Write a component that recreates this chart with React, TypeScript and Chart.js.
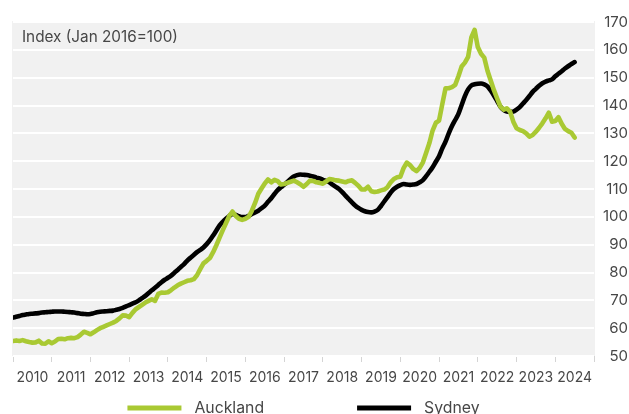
import React, { useEffect, useRef } from "react";
import { Chart, registerables } from "chart.js";

Chart.register(...registerables);

const START_YEAR = 2010;
const yearLabels = ["2010","2011","2012","2013","2014","2015","2016","2017","2018","2019","2020","2021","2022","2023","2024"];
const seriesNames = ["Auckland", "Sydney"];
const seriesColors = ["#a9c933", "#000000"];
const axisTitle = "Index (Jan 2016=100)";

// Monthly index values, Jan 2010 onwards
const aucklandValues = [
  55.4,55.6,55.4,55.7,55.3,55.0,54.8,54.9,55.5,54.5,54.4,55.3,
  54.6,55.2,56.1,56.2,56.0,56.4,56.5,56.4,56.8,57.7,58.7,58.3,
  57.8,58.5,59.3,60.0,60.5,61.0,61.5,62.0,62.6,63.5,64.6,64.5,
  64.0,65.5,66.8,67.6,68.4,69.2,69.8,70.4,69.8,72.3,72.8,72.7,
  72.9,73.7,74.6,75.4,76.0,76.5,77.0,77.2,77.6,79.0,81.2,83.3,
  84.2,85.2,87.3,89.8,92.5,95.2,97.8,100.3,101.9,100.3,99.3,98.9,
  99.3,100.0,102.2,105.0,108.3,110.2,112.0,113.4,112.4,113.3,112.8,111.6,
  111.8,112.2,112.6,113.0,112.4,111.7,110.8,111.8,113.0,112.9,112.4,112.2,
  111.9,112.7,113.6,113.4,113.1,113.0,112.7,112.4,112.9,113.1,112.2,111.2,
  109.8,109.8,110.8,109.2,108.9,109.1,109.5,109.8,110.6,112.4,113.6,114.2,
  114.4,117.5,119.5,118.6,117.2,116.4,117.6,119.6,123.0,126.5,131.0,133.8,
  134.6,140.5,146.2,146.2,146.6,147.4,150.5,154.0,155.4,157.5,164.5,167.2,
  161.0,158.6,157.2,152.5,149.0,145.5,142.5,139.6,138.5,139.0,137.8,134.2,
  131.8,131.2,130.8,130.0,128.8,129.4,130.6,132.0,133.6,135.4,137.4,134.2,
  134.4,135.8,133.4,131.6,130.8,130.2,128.5
];

const sydneyValues = [
  63.8,64.1,64.4,64.7,64.9,65.1,65.2,65.3,65.4,65.6,65.7,65.8,
  65.9,66.0,66.0,66.0,65.9,65.8,65.7,65.6,65.4,65.2,65.1,65.0,
  65.1,65.4,65.7,65.9,66.0,66.1,66.2,66.3,66.6,66.9,67.3,67.8,
  68.3,68.8,69.3,70.0,70.8,71.6,72.6,73.6,74.5,75.5,76.5,77.4,
  78.1,78.9,79.9,80.9,82.0,83.0,84.3,85.3,86.3,87.3,88.1,89.0,
  90.2,91.6,93.3,95.1,96.9,98.2,99.3,100.3,101.0,100.7,100.2,99.9,
  99.9,100.4,101.0,101.6,102.2,103.1,104.0,105.4,106.7,108.2,109.6,110.6,
  111.5,112.5,113.6,114.5,115.0,115.2,115.1,115.0,114.8,114.5,114.1,113.8,
  113.3,112.9,112.4,111.6,110.8,110.0,108.9,107.6,106.4,105.2,104.1,103.2,
  102.5,102.0,101.7,101.6,101.9,102.5,103.9,105.5,107.1,108.7,110.0,110.8,
  111.4,111.8,111.6,111.5,111.6,111.8,112.4,113.2,114.6,116.2,117.8,119.8,
  121.8,124.6,127.0,130.0,132.6,134.8,137.0,140.2,143.4,145.8,147.2,147.6,
  147.8,147.9,147.6,146.9,145.4,143.6,141.6,139.6,138.4,137.8,137.7,137.8,
  138.5,139.4,140.7,142.0,143.4,144.9,146.0,147.1,148.0,148.6,149.0,149.4,
  150.5,151.4,152.3,153.3,154.1,154.9,155.6
];

const FONT = "Inter, 'Noto Sans', sans-serif";
const TEXT_COLOR = "#474747";

const toPoints = (vals: number[]) => vals.map((v, i) => ({ x: START_YEAR + i / 12, y: v }));

const backgroundPlugin = {
  id: "plotBackground",
  beforeDraw(chart: any) {
    const { ctx, chartArea: a } = chart;
    ctx.save();
    ctx.fillStyle = "#f1f1f1";
    ctx.fillRect(a.left - 1, a.top - 1, a.right - a.left + 2, a.bottom - a.top + 1);
    ctx.restore();
  },
  beforeDatasetsDraw(chart: any) {
    const { ctx, chartArea: a } = chart;
    ctx.save();
    ctx.fillStyle = TEXT_COLOR;
    ctx.font = `15.3px ${FONT}`;
    ctx.textBaseline = "middle";
    ctx.textAlign = "left";
    ctx.fillText(axisTitle, a.left + 9, a.top + 15.5);
    ctx.restore();
  },
};

const legendPlugin = {
  id: "bottomLegend",
  afterDraw(chart: any) {
    const { ctx, chartArea: a } = chart;
    const boxW = 54, boxH = 5, gap = 13, itemGap = 93;
    ctx.save();
    ctx.font = `15.8px ${FONT}`;
    const ds = chart.data.datasets;
    const widths = ds.map((d: any) => boxW + gap + ctx.measureText(d.label).width);
    const total = widths.reduce((s: number, w: number) => s + w, 0) + itemGap * (ds.length - 1);
    let x = (a.left + a.right) / 2 - total / 2;
    const y = 408;
    ds.forEach((d: any, i: number) => {
      ctx.fillStyle = d.borderColor;
      ctx.fillRect(x, y - boxH / 2, boxW, boxH);
      ctx.fillStyle = TEXT_COLOR;
      ctx.textBaseline = "middle";
      ctx.textAlign = "left";
      ctx.fillText(d.label, x + boxW + gap, y);
      x += widths[i] + itemGap;
    });
    ctx.restore();
  },
};

export default function App() {
  const ref = useRef<HTMLCanvasElement>(null);
  useEffect(() => {
    if (!ref.current) return;
    const chart = new Chart(ref.current, {
      type: "line",
      data: {
        datasets: [
          {
            label: seriesNames[0],
            data: toPoints(aucklandValues),
            borderColor: seriesColors[0],
            backgroundColor: seriesColors[0],
            borderWidth: 4.6,
            pointRadius: 0,
            tension: 0,
            borderJoinStyle: "round",
            borderCapStyle: "round",
          },
          {
            label: seriesNames[1],
            data: toPoints(sydneyValues),
            borderColor: seriesColors[1],
            backgroundColor: seriesColors[1],
            borderWidth: 4.6,
            pointRadius: 0,
            cubicInterpolationMode: "monotone",
            borderJoinStyle: "round",
            borderCapStyle: "round",
          },
        ],
      },
      options: {
        animation: false,
        responsive: true,
        maintainAspectRatio: false,
        layout: { padding: { left: 13, top: 22, right: 1, bottom: 0 } },
        plugins: { legend: { display: false }, tooltip: { enabled: false } },
        scales: {
          x: {
            type: "linear",
            min: START_YEAR,
            max: START_YEAR + yearLabels.length,
            afterBuildTicks: (scale: any) => {
              const t: any[] = [];
              for (let i = 0; i <= yearLabels.length; i++) {
                t.push({ value: START_YEAR + i });
                if (i < yearLabels.length) t.push({ value: START_YEAR + i + 0.5 });
              }
              scale.ticks = t;
            },
            afterFit: (scale: any) => { scale.height = 58; },
            ticks: {
              autoSkip: false,
              maxRotation: 0,
              padding: 7,
              color: TEXT_COLOR,
              font: { family: FONT, size: 14 },
              callback: (v: any) => {
                const n = Number(v);
                return Number.isInteger(n) ? "" : yearLabels[Math.floor(n) - START_YEAR];
              },
            },
            grid: {
              drawOnChartArea: false,
              drawTicks: true,
              tickLength: 6,
              lineWidth: 1,
              color: (c: any) => (c.tick && Number.isInteger(c.tick.value) ? "#d4d4d4" : "rgba(0,0,0,0)"),
            },
            border: { display: false },
          },
          y: {
            position: "right",
            min: 50,
            max: 170,
            afterFit: (scale: any) => { scale.width = 34; },
            ticks: {
              stepSize: 10,
              crossAlign: "far",
              color: TEXT_COLOR,
              font: { family: FONT, size: 15 },
            },
            grid: { color: "#ffffff", lineWidth: 2, drawTicks: false },
            border: { display: false },
          },
        },
      },
      plugins: [backgroundPlugin, legendPlugin],
    } as any);
    return () => chart.destroy();
  }, []);
  return (
    <div style={{ position: "absolute", left: 0, top: 0, width: 629, height: 414 }}>
      <canvas ref={ref} />
    </div>
  );
}
